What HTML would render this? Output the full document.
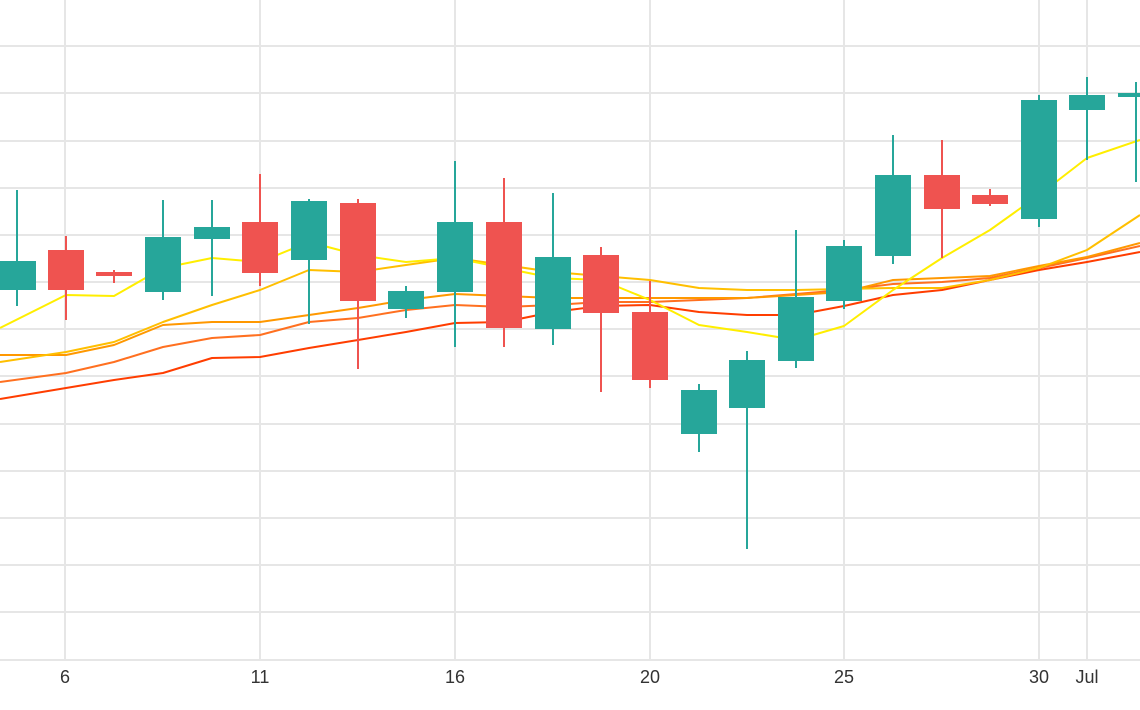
<!DOCTYPE html>
<html><head><meta charset="utf-8"><style>
html,body{margin:0;padding:0;background:#fff;}
svg{display:block;font-family:"Liberation Sans",sans-serif;}
</style></head><body>
<svg width="1140" height="710" viewBox="0 0 1140 710">
<g stroke="#e6e6e6" stroke-width="2">
<line x1="0" x2="1140" y1="46" y2="46"/><line x1="0" x2="1140" y1="93" y2="93"/><line x1="0" x2="1140" y1="141" y2="141"/><line x1="0" x2="1140" y1="188" y2="188"/><line x1="0" x2="1140" y1="235" y2="235"/><line x1="0" x2="1140" y1="282" y2="282"/><line x1="0" x2="1140" y1="329" y2="329"/><line x1="0" x2="1140" y1="376" y2="376"/><line x1="0" x2="1140" y1="424" y2="424"/><line x1="0" x2="1140" y1="471" y2="471"/><line x1="0" x2="1140" y1="518" y2="518"/><line x1="0" x2="1140" y1="565" y2="565"/><line x1="0" x2="1140" y1="612" y2="612"/><line x1="0" x2="1140" y1="660" y2="660"/>
<line x1="65" x2="65" y1="0" y2="660"/><line x1="260" x2="260" y1="0" y2="660"/><line x1="455" x2="455" y1="0" y2="660"/><line x1="650" x2="650" y1="0" y2="660"/><line x1="844" x2="844" y1="0" y2="660"/><line x1="1039" x2="1039" y1="0" y2="660"/><line x1="1087" x2="1087" y1="0" y2="660"/>
</g>
<g fill="none" stroke-width="2" stroke-linejoin="round">
<polyline stroke="#ff3d00" points="0,399 66,388 114,380 163,373 212,358 260,357 309,348 358,340 406,332 455,323 504,322 553,312 601,306 650,305 699,312 747,315 796,315 844,306 893,295 942,290 990,280 1039,270 1087,262 1140,252"/>
<polyline stroke="#ff7020" points="0,382 66,373 114,362 163,347 212,338 260,335 309,322 358,318 406,310 455,305 504,307 553,305 601,302 650,302 699,300 747,298 796,294 844,290 893,284 942,282 990,278 1039,268 1087,258 1140,246"/>
<polyline stroke="#ff9800" points="0,355 66,355 114,345 163,325 212,322 260,322 309,315 358,308 406,300 455,294 504,296 553,298 601,298 650,298 699,298 747,298 796,295 844,292 893,280 942,278 990,276 1039,266 1087,257 1140,243"/>
<polyline stroke="#ffbf00" points="0,362 66,352 114,342 163,322 212,305 260,290 309,270 358,272 406,265 455,258 504,265 553,272 601,276 650,280 699,288 747,290 796,290 844,289 893,288 942,288 990,280 1039,268 1087,250 1140,215"/>
<polyline stroke="#ffee00" points="0,328 66,295 114,296 163,268 212,258 260,262 309,242 358,255 406,262 455,258 504,268 553,278 601,280 650,300 699,325 747,332 796,340 844,326 893,290 942,258 990,230 1039,195 1087,158 1140,140"/>
</g>
<g stroke-width="2">
<g stroke="#26a69a" fill="#26a69a">
<line x1="17" x2="17" y1="190" y2="306"/><rect x="0" y="262" width="35" height="27"/>
<line x1="163" x2="163" y1="200" y2="300"/><rect x="146" y="238" width="34" height="53"/>
<line x1="212" x2="212" y1="200" y2="296"/><rect x="195" y="228" width="34" height="10"/>
<line x1="309" x2="309" y1="199" y2="324"/><rect x="292" y="202" width="34" height="57"/>
<line x1="406" x2="406" y1="286" y2="318"/><rect x="389" y="292" width="34" height="16"/>
<line x1="455" x2="455" y1="161" y2="347"/><rect x="438" y="223" width="34" height="68"/>
<line x1="553" x2="553" y1="193" y2="345"/><rect x="536" y="258" width="34" height="70"/>
<line x1="699" x2="699" y1="384" y2="452"/><rect x="682" y="391" width="34" height="42"/>
<line x1="747" x2="747" y1="351" y2="549"/><rect x="730" y="361" width="34" height="46"/>
<line x1="796" x2="796" y1="230" y2="368"/><rect x="779" y="298" width="34" height="62"/>
<line x1="844" x2="844" y1="240" y2="309"/><rect x="827" y="247" width="34" height="53"/>
<line x1="893" x2="893" y1="135" y2="264"/><rect x="876" y="176" width="34" height="79"/>
<line x1="1039" x2="1039" y1="95" y2="227"/><rect x="1022" y="101" width="34" height="117"/>
<line x1="1087" x2="1087" y1="77" y2="160"/><rect x="1070" y="96" width="34" height="13"/>
<line x1="1136" x2="1136" y1="82" y2="182"/><rect x="1119" y="94" width="21" height="2"/>
</g>
<g stroke="#ef5350" fill="#ef5350">
<line x1="66" x2="66" y1="236" y2="320"/><rect x="49" y="251" width="34" height="38"/>
<line x1="114" x2="114" y1="270" y2="283"/><rect x="97" y="273" width="34" height="2"/>
<line x1="260" x2="260" y1="174" y2="286"/><rect x="243" y="223" width="34" height="49"/>
<line x1="358" x2="358" y1="199" y2="369"/><rect x="341" y="204" width="34" height="96"/>
<line x1="504" x2="504" y1="178" y2="347"/><rect x="487" y="223" width="34" height="104"/>
<line x1="601" x2="601" y1="247" y2="392"/><rect x="584" y="256" width="34" height="56"/>
<line x1="650" x2="650" y1="281" y2="388"/><rect x="633" y="313" width="34" height="66"/>
<line x1="942" x2="942" y1="140" y2="258"/><rect x="925" y="176" width="34" height="32"/>
<line x1="990" x2="990" y1="189" y2="206"/><rect x="973" y="196" width="34" height="7"/>
</g>
</g>
<g fill="#333" font-size="18" text-anchor="middle">
<text x="65" y="683">6</text><text x="260" y="683">11</text><text x="455" y="683">16</text><text x="650" y="683">20</text><text x="844" y="683">25</text><text x="1039" y="683">30</text><text x="1087" y="683">Jul</text>
</g>
</svg>
</body></html>
